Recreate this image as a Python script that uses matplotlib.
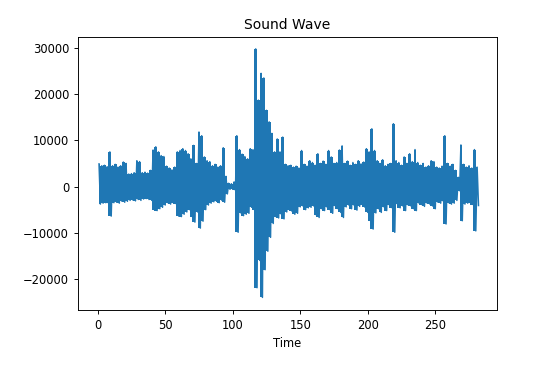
import numpy as np
import matplotlib
matplotlib.use("Agg")
import matplotlib.pyplot as plt

# envelope, one pair every 2 s (values in thousands)
start_t = 0
step_t = 2
upper_k = [4.9, 4.5, 4.6, 4.3, 7.5, 4.5, 4.8, 4.2, 4.5, 5.3,
           5.0, 2.7, 2.8, 3.0, 5.6, 5.4, 3.0, 3.1, 2.9, 3.5,
           7.9, 8.6, 7.5, 6.7, 6.5, 4.4, 4.0, 3.6, 4.2, 7.5,
           7.8, 8.2, 7.8, 7.1, 6.0, 8.9, 5.0, 11.8, 11.0, 6.4,
           5.6, 5.4, 4.5, 4.8, 4.2, 4.5, 8.4, 2.2, 0.7, 0.6,
           1.0, 11.0, 8.0, 7.0, 6.5, 6.0, 8.2, 8.0, 29.8, 18.7,
           24.5, 23.5, 16.5, 14.0, 11.5, 7.5, 10.3, 7.5, 10.7, 4.8,
           4.5, 4.6, 4.2, 4.4, 4.0, 7.8, 4.8, 4.4, 5.6, 5.2,
           4.6, 7.1, 5.0, 5.5, 4.8, 7.8, 6.4, 5.0, 5.2, 7.9,
           8.8, 5.0, 5.5, 4.6, 5.2, 4.8, 5.6, 4.9, 5.3, 8.2,
           7.5, 12.5, 7.8, 5.6, 5.0, 5.8, 4.5, 4.8, 5.0, 13.6,
           5.6, 5.2, 4.6, 6.4, 5.0, 7.1, 5.4, 8.0, 5.2, 4.6,
           5.0, 4.2, 4.5, 5.6, 5.4, 4.2, 4.0, 4.4, 11.0, 5.0,
           4.4, 4.8, 3.5, 2.0, 9.0, 4.8, 4.2, 4.5, 4.0, 8.0,
           4.2]
lower_k = [-3.8, -3.6, -3.5, -3.6, -6.4, -3.5, -3.4, -3.6, -3.2, -3.4,
           -3.2, -3.0, -2.9, -3.1, -2.8, -3.0, -2.7, -2.6, -2.8, -3.0,
           -5.0, -5.2, -4.8, -4.5, -4.0, -3.5, -3.8, -3.5, -3.7, -6.4,
           -6.5, -6.0, -5.5, -5.0, -6.5, -7.7, -5.5, -9.0, -7.5, -5.0,
           -4.0, -3.6, -3.3, -3.2, -3.5, -3.0, -3.4, -1.6, -0.6, -0.6,
           -0.8, -9.9, -5.7, -6.3, -6.0, -5.8, -4.5, -5.0, -21.9, -16.0,
           -24.0, -18.0, -14.0, -11.0, -8.0, -6.5, -6.8, -6.0, -7.0, -5.5,
           -5.0, -5.4, -6.0, -5.8, -4.4, -4.2, -5.0, -4.6, -4.5, -4.2,
           -6.2, -6.7, -4.8, -5.2, -4.5, -5.0, -5.8, -4.2, -4.8, -5.6,
           -6.7, -4.4, -4.0, -4.8, -4.1, -5.1, -4.3, -3.9, -4.5, -5.6,
           -7.4, -9.2, -5.7, -4.8, -5.6, -4.4, -5.2, -4.0, -4.6, -9.9,
           -3.8, -4.6, -4.2, -5.2, -4.0, -4.2, -4.8, -5.2, -3.6, -3.9,
           -4.3, -3.6, -3.8, -4.2, -4.8, -3.4, -3.6, -3.2, -8.1, -3.5,
           -3.8, -3.6, -3.0, -0.9, -7.4, -3.8, -3.6, -3.5, -3.9, -9.6,
           -4.1]

n = len(upper_k)
time = start_t + step_t * np.arange(n) + step_t / 2
upper = np.array(upper_k) * 1000
lower = np.array(lower_k) * 1000

# zigzag trace: upper at bin centre, lower half a bin later
zz_t = np.empty(2 * n)
zz_y = np.empty(2 * n)
zz_t[0::2] = time
zz_t[1::2] = time + step_t / 2
zz_y[0::2] = upper
zz_y[1::2] = lower

plt.rcParams['font.size'] = 8.3
plt.rcParams['axes.linewidth'] = 0.67
plt.rcParams['xtick.major.width'] = 0.67
plt.rcParams['ytick.major.width'] = 0.67
plt.rcParams['xtick.major.size'] = 2.9
plt.rcParams['ytick.major.size'] = 2.9

fig = plt.figure(figsize=(5.57, 3.65), dpi=100)
ax = fig.add_axes([0.140, 0.151, 0.752, 0.748])
ax.fill_between(time, lower, upper, step='mid', facecolor='#1f77b4',
                linewidth=0)
ax.plot(zz_t, zz_y, color='#1f77b4', linewidth=1.1)
ax.set_xlim(-14.6, 295.6)
ax.set_ylim(-26700, 32400)
ax.set_title('Sound Wave', fontsize=10)
ax.set_xlabel('Time')
ax.set_xticks([0, 50, 100, 150, 200, 250])
fig.savefig('out.png', dpi=100)
